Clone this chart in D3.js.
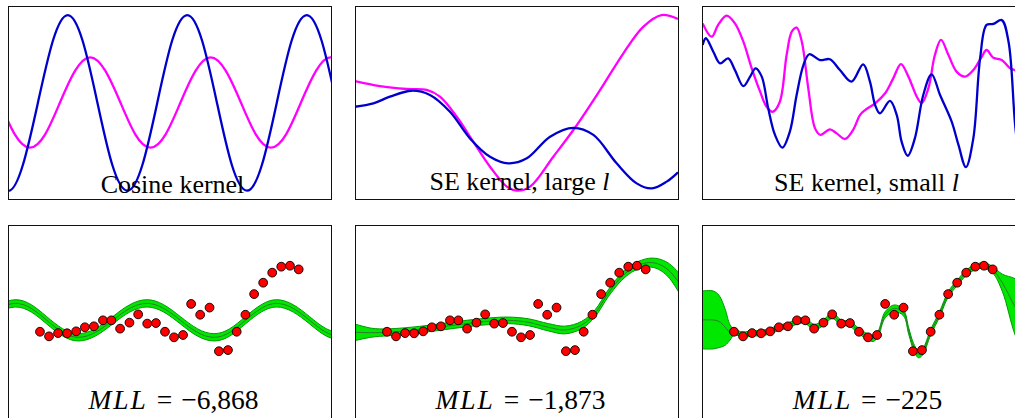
<!DOCTYPE html>
<html><head><meta charset="utf-8">
<script src="https://cdn.jsdelivr.net/npm/d3@7"></script>
<style>body{margin:0;background:#fff;overflow:hidden}svg{display:block}
text{font-family:"Liberation Serif","DejaVu Serif",serif;}</style>
</head><body><svg id="c" width="1015" height="418"></svg>
<script>
// ---------- Data (x and y in percent of panel extent) ----------
// Row 1, panel 1: cosine kernel samples
const cosBlueX = [-4.6,0,4.6,9.25,13.9,18.5,23.1,27.7,32.3,37.0,41.6,46.2,50.8,55.5,60.1,64.7,69.3,74.0,78.6,83.2,87.8,92.5,97.1,101.7];
const cosBlueY = [17.6,4.3,17.6,49.8,82.0,95.3,82.0,49.8,17.6,4.3,17.6,49.8,82.0,95.3,82.0,49.8,17.6,4.3,17.6,49.8,82.0,95.3,82.0,49.8];
const cosMagX = [-2.5,2.1,6.8,11.5,16.1,20.8,25.45,30.1,34.8,39.4,44.1,48.8,53.4,58.1,62.75,67.4,72.1,76.7,81.4,86.1,90.7,95.4,100,104.7];
const cosMagY = [50,33.5,26.6,33.5,50,66.5,73.4,66.5,50,33.5,26.6,33.5,50,66.5,73.4,66.5,50,33.5,26.6,33.5,50,66.5,73.4,66.5];
// Row 1, panel 2: SE kernel, large l
const seLargeBlueX = [0,5.7,10.8,17.5,23.2,29.4,35.6,41.8,47.5,53.2,60.4,67.6,73.8,81.0,87.2,91.9,96.5,100];
const seLargeBlueY = [47.8,49.6,53.0,56.1,53.9,45.2,31.4,21.9,18.5,21.1,32.3,36.9,33.2,18.5,8.1,5.5,9.0,13.8];
const seLargeMagX = [0,7.7,16.0,22.2,26.3,31.5,36.6,41.8,47.0,50.1,54.2,61.4,68.1,75.9,83.1,89.3,94.9,100];
const seLargeMagY = [61.1,58.5,57.0,56.5,53.0,42.6,29.7,16.7,6.4,4.3,6.4,21.9,36.9,56.5,75.5,89.3,95.3,93.3];
// Row 1, panel 3: SE kernel, small l
const seSmallBlueX = [0.2,1.2,3.5,5.6,8.1,10.2,12.8,14.9,16.6,18.5,20.5,22.6,24.9,27.2,29.3,31.4,33.2,36.5,39.6,42.7,46.3,49.9,52.0,53.6,55.1,58.2,60.3,61.8,63.7,65.9,68.5,71.1,73.7,77.3,79.4,81.7,84.0,86.1,88.1,90.2,92.8,94.9,96.9,98.5];
const seSmallBlueY = [79.8,83.3,76.3,70.3,72.9,66.8,58.5,63.4,67.7,63.4,47.0,33.2,26.6,34.9,53.9,69.4,75.0,72.0,72.4,66.8,60.8,69.8,60.8,48.7,44.4,50.8,43.5,29.7,22.4,31.4,53.9,64.6,53.9,40.1,28.0,16.5,31.4,72.9,90.2,90.7,92.7,81.5,39.2,15];
const seSmallMagX = [0.2,3.0,5.0,7.6,10.2,12.8,15.4,18.0,20.0,21.9,24.1,26.2,27.8,29.3,30.9,32.9,35.0,36.7,39.6,41.7,44.3,46.8,48.9,50.5,53.6,56.7,59.2,61.6,63.9,66.5,68.0,70.1,72.1,74.0,76.3,78.8,81.4,84.0,86.6,88.1,90.2,92.8,95.4,96.9,100];
const seSmallMagY = [91.0,84.1,90.2,95.0,91.0,81.5,67.7,55.6,47.8,45.2,50.4,74.6,86.7,88.8,81.5,57.4,36.6,33.2,36.1,34.0,31.1,35.8,43.5,46.1,49.6,54.8,62.5,69.9,63.4,53.0,49.6,57.4,74.6,82.4,74.6,66.0,63.4,66.8,73.7,77.2,73.2,72.0,67.7,66.8,66];

// Row 2: observations (shared by the three fits)
const obsX = [9.9,12.7,15.5,18.3,21.1,23.8,26.6,29.4,32.0,34.7,37.6,40.3,43.1,45.8,48.6,51.4,54.2,56.7,59.5,62.4,65.3,68.1,70.8,73.5,76.2,79.0,81.8,84.6,87.3,90.0];
const obsY = [44.7,42.3,44.0,43.9,44.9,47.0,47.5,50.6,50.6,46.3,49.4,53.7,48.9,49.2,44.7,41.8,43.0,59.1,53.5,57.2,34.6,35.2,44.7,53.5,64.2,70.1,75.3,78.4,78.9,77.0];
// Fit 1 (cosine kernel): mean and half band width
const fitCosX = [-2.9,2.2,7.2,12.0,16.9,21.8,27.1,32.4,37.7,43.0,48.2,53.4,58.6,63.8,68.7,73.5,78.4,83.2,88.3,93.4,98.5,103.6];
const fitCosMean = [56.8,59.4,56.8,50.6,44.4,41.8,44.4,50.6,56.8,59.4,56.8,50.6,44.4,41.8,44.4,50.6,56.8,59.4,56.8,50.6,44.4,41.8];
const fitCosHalf = [1.9,1.9,1.9,1.9,1.9,1.9,1.9,1.9,1.9,1.9,1.9,1.9,1.9,1.9,1.9,1.9,1.9,1.9,1.9,1.9,1.9,1.9];
// Fit 2 (SE kernel, large l)
const fitLargeX = [0,5.2,10.3,20.6,31.0,41.3,47.5,53.7,59.9,65.0,70.2,74.3,78.4,82.6,86.7,90.8,93.9,97.0,100.1];
const fitLargeMean = [44.4,44.2,44.4,45.9,48.2,50.1,50.6,49.6,47.0,45.6,48.2,54.2,64.6,73.2,78.4,80.5,79.8,76.7,70.6];
const fitLargeHalf = [4.3,2.3,1.8,1.7,1.7,1.7,1.7,1.8,1.9,2.0,1.9,1.8,1.8,1.8,1.9,2.2,2.7,3.6,5.0];
// Fit 3 (SE kernel, small l)
const fitSmallX = [0,3.5,5.3,7.1,8.7,9.9,12.7,15.5,18.3,21.1,23.8,26.6,29.4,32.0,34.7,37.6,40.3,43.1,45.8,48.6,51.4,53.0,54.5,56.7,59.6,62.4,64.0,65.5,67.0,68.3,70.8,73.5,76.2,79.0,81.8,84.6,87.3,90.0,93.0,96.9,100];
const fitSmallMean = [50.8,50.8,50.0,47.2,44.3,44.6,43.2,43.9,44.0,45.0,46.8,47.8,50.0,50.4,47.0,49.4,53.0,49.4,48.8,45.0,42.0,41.3,43.5,53.5,56.8,54.5,45.0,37.0,33.0,34.2,44.5,53.5,64.0,70.0,75.2,78.2,78.9,76.8,70.0,57.7,50.0];
const fitSmallHalf = [15,15,13.5,9.6,3.9,1.5,1.4,1.4,1.4,1.4,1.4,1.4,1.4,1.4,1.5,1.4,1.5,1.4,1.4,1.4,1.5,1.6,1.5,1.6,1.8,1.6,1.7,1.7,1.8,1.6,1.5,1.4,1.4,1.4,1.4,1.4,1.5,1.7,4.5,14.5,18];

const topTitles = ["Cosine kernel", "SE kernel, large ", "SE kernel, small "];
const topTitleItalic = ["", "l", "l"];
const mllValues = ["\u22126,868", "\u22121,873", "\u2212225"];

// ---------- Drawing ----------
const svg = d3.select("#c");
const W = 323, H = 193;
const colX = [8, 355, 702], rowY = [6, 225];
const BLUE = "#0000cc", MAG = "#ff00ff";

function makePanel(col, row) {
  const x0 = colX[col], y0 = rowY[row];
  const id = `clip${row}${col}`;
  const x = d3.scaleLinear().domain([0, 100]).range([x0, x0 + W]);
  const y = d3.scaleLinear().domain([0, 100]).range([y0 + H, y0]);
  svg.append("clipPath").attr("id", id).append("rect")
    .attr("x", x0).attr("y", y0).attr("width", W).attr("height", H);
  const g = svg.append("g").attr("clip-path", `url(#${id})`);
  return {x, y, g, x0, y0};
}

function drawLine(p, xs, ys, color, curve) {
  const pts = xs.map((v, i) => [v, ys[i]]);
  p.g.append("path").datum(pts)
    .attr("fill", "none").attr("stroke", color).attr("stroke-width", 2.3)
    .attr("stroke-linejoin", "round")
    .attr("d", d3.line().x(d => p.x(d[0])).y(d => p.y(d[1])).curve(curve));
}

function frame(p) {
  svg.append("rect").attr("x", p.x0 + 0.5).attr("y", p.y0 + 0.5)
    .attr("width", W).attr("height", H)
    .attr("fill", "none").attr("stroke", "#111").attr("stroke-width", 1);
}

// Row 1
const topBase = [192.5, 189.5, 191];
const topSeries = [
  [[cosBlueX, cosBlueY, cosMagX, cosMagY], d3.curveNatural],
  [[seLargeBlueX, seLargeBlueY, seLargeMagX, seLargeMagY], d3.curveCatmullRom.alpha(0.5)],
  [[seSmallBlueX, seSmallBlueY, seSmallMagX, seSmallMagY], d3.curveCatmullRom.alpha(0.5)]
];
topSeries.forEach(([s, curve], c) => {
  const p = makePanel(c, 0);
  drawLine(p, s[2], s[3], MAG, curve);
  drawLine(p, s[0], s[1], BLUE, curve);
  const t = svg.append("text").attr("x", p.x0 + 164.5).attr("y", topBase[c])
    .attr("text-anchor", "middle").style("font-size", "26px")
    .attr("fill", "#000");
  t.append("tspan").text(topTitles[c]);
  if (topTitleItalic[c]) t.append("tspan").style("font-style", "italic").text(topTitleItalic[c]);
  frame(p);
});

// Row 2
const fits = [
  [fitCosX, fitCosMean, fitCosHalf, d3.curveNatural],
  [fitLargeX, fitLargeMean, fitLargeHalf, d3.curveCatmullRom.alpha(0.5)],
  [fitSmallX, fitSmallMean, fitSmallHalf, d3.curveCatmullRom.alpha(0.5)]
];
fits.forEach(([fx, fm, fh, curve], c) => {
  const p = makePanel(c, 1);
  const pts = fx.map((v, i) => ({x: v, m: fm[i], h: fh[i]}));
  p.g.append("path").datum(pts)
    .attr("fill", "#00e800").attr("stroke", "#009a00").attr("stroke-width", 1)
    .attr("d", d3.area().x(d => p.x(d.x)).y0(d => p.y(d.m - d.h)).y1(d => p.y(d.m + d.h)).curve(curve));
  p.g.append("path").datum(pts)
    .attr("fill", "none").attr("stroke", "#2f7a2f").attr("stroke-width", 1)
    .attr("d", d3.line().x(d => p.x(d.x)).y(d => p.y(d.m)).curve(curve));
  p.g.selectAll("circle").data(obsX.map((v, i) => [v, obsY[i]])).join("circle")
    .attr("cx", d => p.x(d[0])).attr("cy", d => p.y(d[1])).attr("r", 4.4)
    .attr("fill", "#ff0000").attr("stroke", "#000").attr("stroke-width", 0.9);
  const t = svg.append("text").attr("x", p.x0 + 165.5).attr("y", 409.3)
    .attr("text-anchor", "middle").style("font-size", "27.5px")
    .style("word-spacing", "2px")
    .attr("fill", "#000");
  t.append("tspan").style("font-style", "italic").style("letter-spacing", "2px").text("MLL");
  t.append("tspan").text(" = " + mllValues[c]);
  frame(p);
});
</script>
</body></html>
